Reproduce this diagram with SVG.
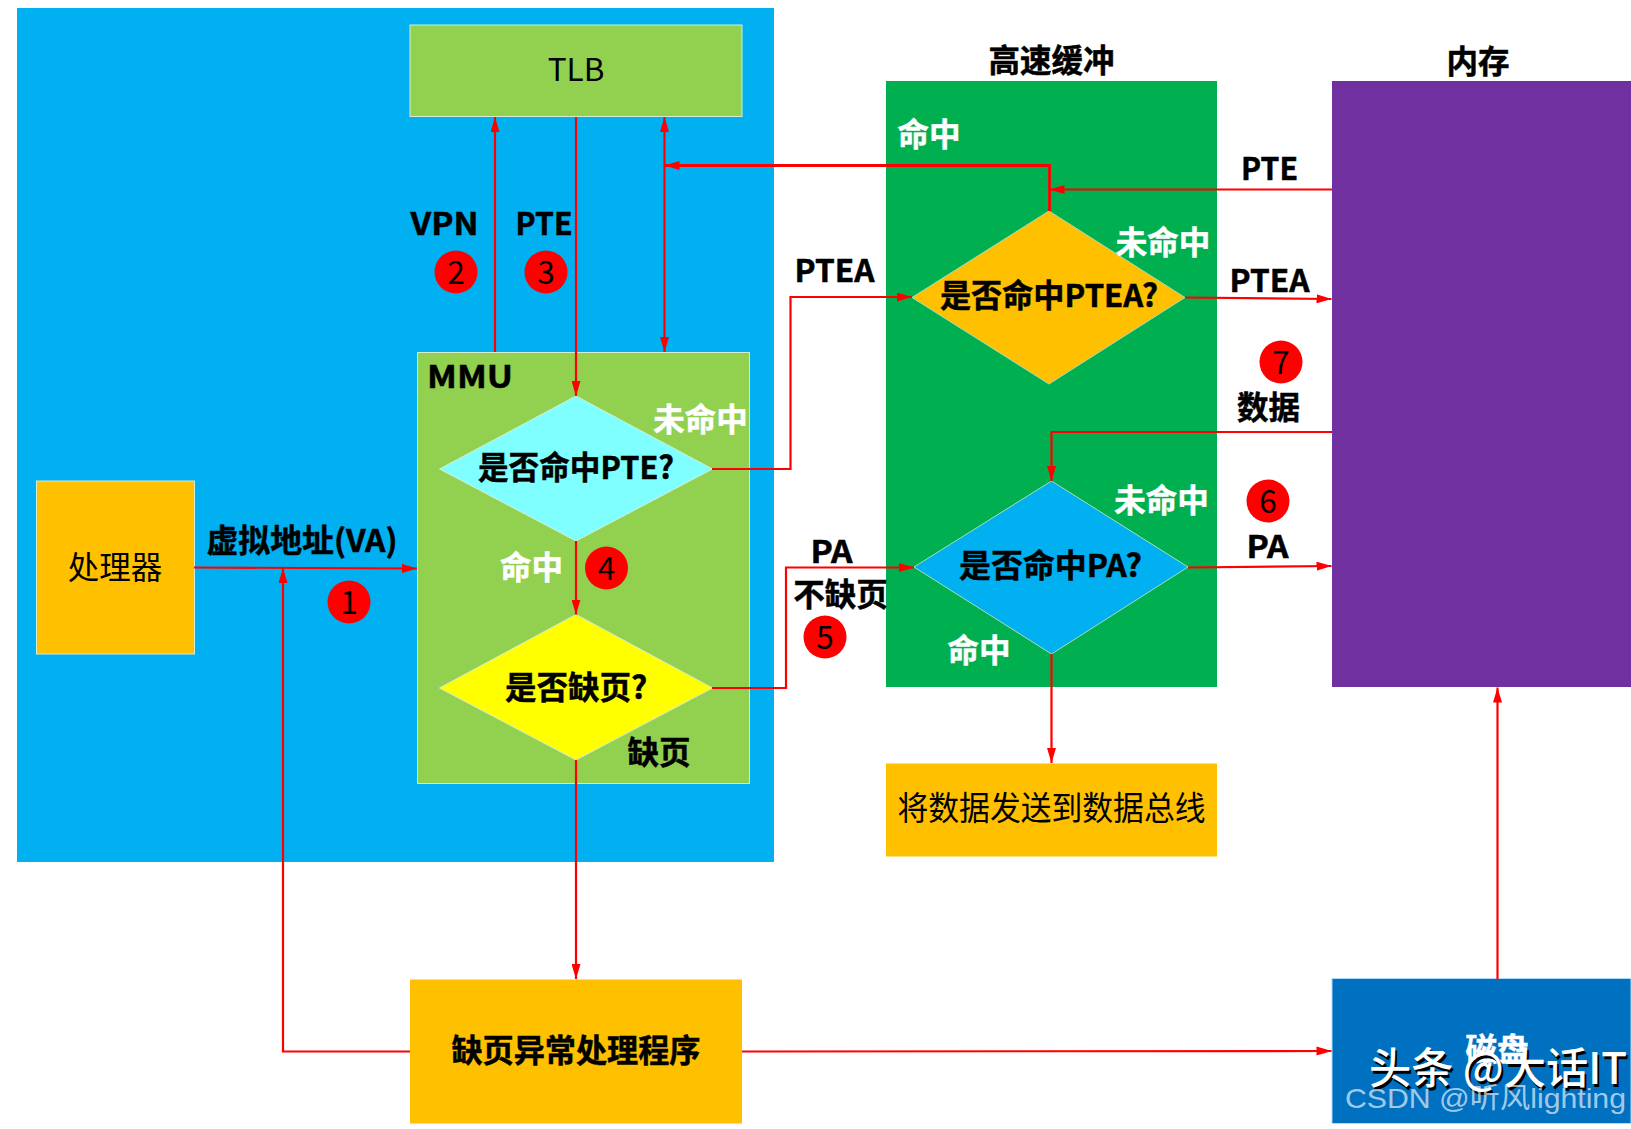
<svg xmlns="http://www.w3.org/2000/svg" width="1631" height="1129" viewBox="0 0 1631 1129">
<defs>
<marker id="arrow" markerUnits="userSpaceOnUse" markerWidth="15" markerHeight="9" refX="15" refY="4.5" orient="auto-start-reverse"><path d="M0 0L15 4.5L0 9Z" fill="#ff0000"/></marker>
</defs>
<style>
text{font-family:"Noto Sans CJK SC","Microsoft YaHei","Noto Sans",sans-serif;text-anchor:middle;dominant-baseline:central;fill:#000;font-size:31.500px}
.b{font-weight:700;stroke:#000;stroke-width:.5}
.w{font-weight:700;fill:#fff;stroke:#fff;stroke-width:.5}
.box{stroke:#d6ecd0;stroke-width:1}
.plain{stroke:none}
.c{fill:none;stroke:#ff0000;stroke-width:2.2;marker-end:url(#arrow)}
.dot{fill:#ff0000}
</style>
<rect width="1631" height="1129" fill="#fff"/>
<g id="cpu-domain"><rect class="plain" x="17" y="8" width="757" height="854" fill="#00b0f0"/></g>
<g id="tlb"><rect class="box" x="410" y="25" width="332" height="91.500" fill="#92d050"/><text x="576" y="67">TLB</text></g>
<g id="mmu"><rect class="box" x="417.500" y="352.500" width="332" height="431" fill="#92d050"/><text class="b" x="470" y="374" textLength="86" lengthAdjust="spacingAndGlyphs">MMU</text></g>
<g id="processor"><rect class="box" x="36.500" y="481" width="158" height="173" fill="#ffc000"/><text x="115" y="565">处理器</text></g>
<g id="cache"><rect class="plain" x="886" y="81" width="331" height="606" fill="#00b050"/><text class="b" x="1051.500" y="58">高速缓冲</text></g>
<g id="memory"><rect class="plain" x="1332" y="81" width="299" height="606" fill="#7030a0"/><text class="b" x="1478" y="59">内存</text></g>
<g id="bus"><rect class="plain" x="886" y="763.500" width="331" height="93" fill="#ffc000"/><text x="1051.500" y="806" textLength="308" lengthAdjust="spacingAndGlyphs" style="font-size:33px">将数据发送到数据总线</text></g>
<g id="handler"><rect class="plain" x="410" y="979.500" width="332" height="144" fill="#ffc000"/><text class="b" x="576" y="1048" textLength="249" lengthAdjust="spacingAndGlyphs">缺页异常处理程序</text></g>
<g id="disk"><rect x="1332" y="978.500" width="299" height="145" fill="#0070c0" stroke="#a9dcf5" stroke-width="1"/><text class="w" x="1497" y="1047">磁盘</text></g>
<g id="q-pte"><polygon points="439.500,469 576,396 712.500,469 576,541" fill="#7fffff" stroke="#d6ecd0"/><text class="b" x="576" y="465" textLength="196" lengthAdjust="spacingAndGlyphs">是否命中PTE?</text></g>
<g id="q-fault"><polygon points="439.500,688 576,614.500 712.500,688 576,760" fill="#ffff00" stroke="#d6ecd0"/><text class="b" x="576" y="685">是否缺页?</text></g>
<g id="q-ptea"><polygon points="912,297.500 1049,211 1185,297.500 1049,384" fill="#ffc000" stroke="#a8dcb8"/><text class="b" x="1049" y="293" textLength="218" lengthAdjust="spacingAndGlyphs">是否命中PTEA?</text></g>
<g id="q-pa"><polygon points="914,567 1051.500,481 1188,567 1051.500,654" fill="#00b0f0" stroke="#a8dcb8"/><text class="b" x="1050.500" y="563" textLength="183" lengthAdjust="spacingAndGlyphs">是否命中PA?</text></g>
<g id="connectors">
<path class="c" d="M194 567.500L417 568.500"/>
<path class="c" d="M410 1051.500H283V568"/>
<path class="c" d="M495 352V117"/>
<path class="c" d="M576 117V396"/>
<path class="c" d="M664.500 117V352" style="marker-start:url(#arrow)"/>
<path class="c" d="M1049.500 211V165.500H664.500" style="stroke-width:2.800"/>
<path class="c" d="M1332 189.500H1049.500"/>
<path class="c" d="M712 469H790.500V297H912"/>
<path class="c" d="M1185 297.500L1331.500 299"/>
<path class="c" d="M1332 432H1051.500V481"/>
<path class="c" d="M1188 567.500L1331.500 566"/>
<path class="c" d="M712 688H786V567.500H914"/>
<path class="c" d="M576 541V614.500"/>
<path class="c" d="M576 760V979"/>
<path class="c" d="M1051.500 654V763"/>
<path class="c" d="M742 1051.500L1331.500 1051"/>
<path class="c" d="M1497.500 979V687.500"/>
</g>
<g id="markers">
<g id="m1"><circle class="dot" cx="349" cy="602" r="21.500"/><text x="349" y="600">1</text></g>
<g id="m2"><circle class="dot" cx="456" cy="272" r="21.500"/><text x="456" y="270">2</text></g>
<g id="m3"><circle class="dot" cx="546" cy="272" r="21.500"/><text x="546" y="270">3</text></g>
<g id="m4"><circle class="dot" cx="606.500" cy="568" r="21.500"/><text x="606.500" y="566">4</text></g>
<g id="m5"><circle class="dot" cx="825" cy="637" r="21.500"/><text x="825" y="635">5</text></g>
<g id="m6"><circle class="dot" cx="1268" cy="501" r="21.500"/><text x="1268" y="499">6</text></g>
<g id="m7"><circle class="dot" cx="1281" cy="362" r="21.500"/><text x="1281" y="360">7</text></g>
</g>
<g id="labels">
<text class="b" x="302" y="537.500" textLength="191" lengthAdjust="spacingAndGlyphs">虚拟地址(VA)</text>
<text class="b" x="444.500" y="221" textLength="68" lengthAdjust="spacingAndGlyphs">VPN</text>
<text class="b" x="544" y="221" textLength="57" lengthAdjust="spacingAndGlyphs">PTE</text>
<text class="w" x="700.500" y="417">未命中</text>
<text class="w" x="531.500" y="565">命中</text>
<text class="b" x="659" y="750">缺页</text>
<text class="b" x="834.500" y="268" textLength="80" lengthAdjust="spacingAndGlyphs">PTEA</text>
<text class="w" x="929" y="132">命中</text>
<text class="b" x="1269.500" y="166" textLength="57" lengthAdjust="spacingAndGlyphs">PTE</text>
<text class="w" x="1163" y="240">未命中</text>
<text class="b" x="1269.500" y="278" textLength="80" lengthAdjust="spacingAndGlyphs">PTEA</text>
<text class="b" x="1268.500" y="405">数据</text>
<text class="w" x="1161.500" y="498">未命中</text>
<text class="b" x="1267.500" y="544" textLength="42" lengthAdjust="spacingAndGlyphs">PA</text>
<text class="b" x="831.500" y="549" textLength="42" lengthAdjust="spacingAndGlyphs">PA</text>
<text class="b" x="840.500" y="592">不缺页</text>
<text class="w" x="979" y="648">命中</text>
</g>
<g id="watermarks">
<text x="1498" y="1065" textLength="258" lengthAdjust="spacingAndGlyphs" style="font-size:43px;font-weight:500;fill:#000" transform="translate(2 3)">头条 @大话IT</text>
<text x="1498" y="1065" textLength="258" lengthAdjust="spacingAndGlyphs" style="font-size:43px;font-weight:500;fill:#fff">头条 @大话IT</text>
<text x="1485.500" y="1098" textLength="281" lengthAdjust="spacingAndGlyphs" style="font-size:28px;font-family:'Liberation Sans','Noto Sans CJK SC',sans-serif;fill:#fff;fill-opacity:.65">CSDN @听风lighting</text>
</g>
</svg>
